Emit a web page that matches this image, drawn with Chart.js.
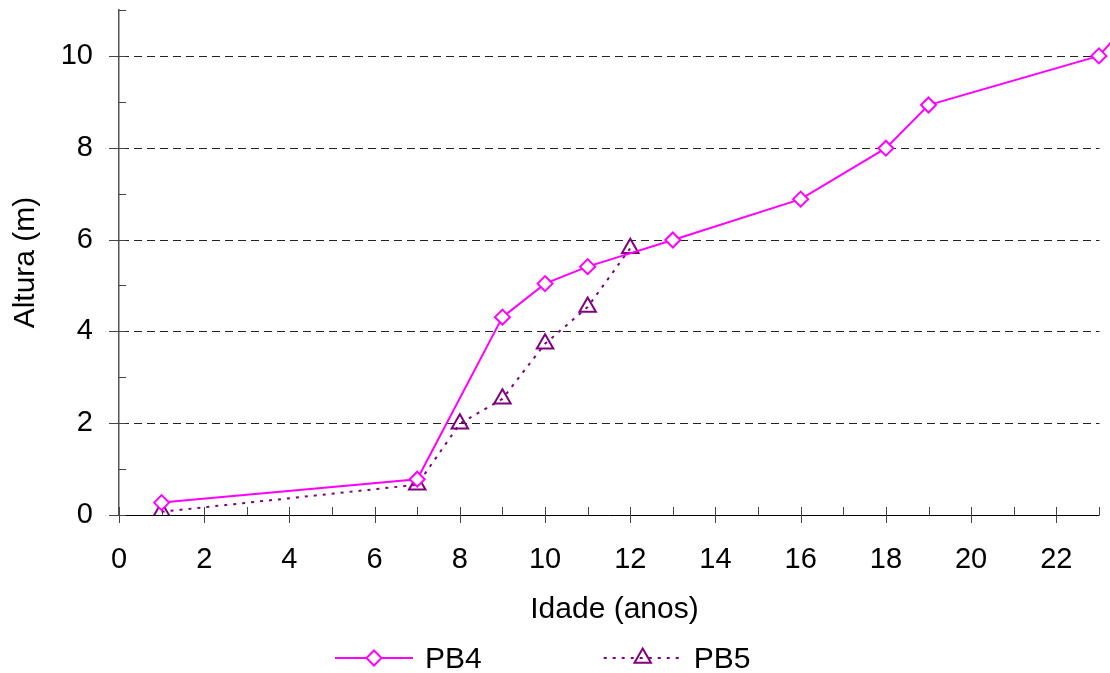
<!DOCTYPE html>
<html>
<head>
<meta charset="utf-8">
<title>Altura x Idade</title>
<script src="https://cdn.jsdelivr.net/npm/chart.js@4/dist/chart.umd.min.js"></script>
<style>
  html, body { margin: 0; padding: 0; background: #fff; }
  #wrap { width: 1110px; height: 673px; position: relative; }
</style>
</head>
<body>
<div id="wrap"><canvas id="chart"></canvas></div>
<script>
// values
var agesPB4 = [1, 7, 9, 10, 11, 13, 16, 18, 19, 23, 24];
var heightPB4 = [0.27, 0.78, 4.31, 5.04, 5.41, 5.99, 6.88, 7.99, 8.93, 10.0, 11.04];
var agesPB5 = [1, 7, 8, 9, 10, 11, 12];
var heightPB5 = [0.07, 0.66, 1.99, 2.53, 3.73, 4.53, 5.81];
var seriesNames = ["PB4", "PB5"];
var xTitle = "Idade (anos)";
var yTitle = "Altura (m)";
var xAxisEnd = 23;

var fontFamily = '"Liberation Sans", Arial, sans-serif';

function toPoints(xs, ys) {
  var out = [];
  for (var i = 0; i < xs.length; i++) {
    out.push({ x: xs[i], y: ys[i] });
  }
  return out;
}

function evenLabel(value) {
  return value % 2 === 0 ? String(value) : "";
}

// dashed gridlines, x axis line and Excel-style major/minor tick marks
var axisMarks = {
  id: "axisMarks",
  beforeDatasetsDraw: function (chart) {
    var ctx = chart.ctx;
    var area = chart.chartArea;
    var xs = chart.scales.x;
    var ys = chart.scales.y;
    var xEnd = Math.round(xs.getPixelForValue(xAxisEnd)) + 0.5;
    ctx.save();
    ctx.strokeStyle = "#222";
    ctx.lineWidth = 1;
    ctx.setLineDash([8, 5]);
    ys.ticks.forEach(function (t) {
      if (t.value === 0 || t.value % 2 !== 0) return;
      var y = Math.round(ys.getPixelForValue(t.value)) + 0.5;
      ctx.beginPath();
      ctx.moveTo(area.left + 2, y);
      ctx.lineTo(xEnd, y);
      ctx.stroke();
    });
    ctx.setLineDash([]);
    // x axis line stops at the last age tick
    var yb = Math.round(area.bottom) + 0.5;
    ctx.strokeStyle = "#000";
    ctx.beginPath();
    ctx.moveTo(area.left, yb);
    ctx.lineTo(xEnd, yb);
    ctx.stroke();
    ctx.strokeStyle = "#444";
    ys.ticks.forEach(function (t) {
      var y = Math.round(ys.getPixelForValue(t.value)) + 0.5;
      var major = t.value % 2 === 0;
      ctx.beginPath();
      ctx.moveTo(area.left - (major ? 10 : 0), y);
      ctx.lineTo(area.left + 7, y);
      ctx.stroke();
    });
    xs.ticks.forEach(function (t) {
      if (t.value > xAxisEnd) return;
      var x = Math.round(xs.getPixelForValue(t.value)) + 0.5;
      var major = t.value % 2 === 0;
      ctx.beginPath();
      ctx.moveTo(x, area.bottom - 8);
      ctx.lineTo(x, area.bottom + (major ? 8 : 0));
      ctx.stroke();
    });
    ctx.restore();
  },
};

// legend under the x title: short line with the marker in its middle
var bottomLegend = {
  id: "bottomLegend",
  afterDraw: function (chart) {
    var ctx = chart.ctx;
    var y = 658;
    var x0 = 335;
    var lineLen = 78;
    ctx.save();
    ctx.font = "30px " + fontFamily;
    chart.data.datasets.forEach(function (ds) {
      ctx.strokeStyle = ds.borderColor;
      ctx.lineWidth = ds.borderWidth;
      ctx.setLineDash(ds.borderDash || []);
      ctx.beginPath();
      ctx.moveTo(x0, y);
      ctx.lineTo(x0 + lineLen, y);
      ctx.stroke();
      ctx.setLineDash([]);
      ctx.fillStyle = ds.pointBackgroundColor;
      ctx.lineWidth = ds.pointBorderWidth;
      Chart.helpers.drawPoint(ctx, {
        pointStyle: ds.pointStyle,
        radius: ds.pointRadius,
        borderWidth: ds.pointBorderWidth,
        rotation: 0,
      }, x0 + lineLen / 2, y);
      ctx.fillStyle = "#000";
      ctx.textBaseline = "alphabetic";
      ctx.textAlign = "left";
      ctx.fillText(ds.label, x0 + lineLen + 12, y + 10);
      x0 += lineLen + 12 + ctx.measureText(ds.label).width + 122;
    });
    ctx.restore();
  },
};

new Chart(document.getElementById("chart"), {
  type: "line",
  data: {
    datasets: [
      {
        label: seriesNames[0],
        data: toPoints(agesPB4, heightPB4),
        borderColor: "#ff00ff",
        borderWidth: 2,
        pointStyle: "rectRot",
        pointRadius: 7.5,
        pointBorderWidth: 2,
        pointBorderColor: "#ff00ff",
        pointBackgroundColor: "#ffffff",
        tension: 0,
        fill: false,
      },
      {
        label: seriesNames[1],
        data: toPoints(agesPB5, heightPB5),
        borderColor: "#800080",
        borderWidth: 2,
        borderDash: [3, 6],
        pointStyle: "triangle",
        pointRadius: 9.5,
        pointBorderWidth: 2,
        pointBorderColor: "#800080",
        pointBackgroundColor: "rgba(255,255,255,0)",
        tension: 0,
        fill: false,
      },
    ],
  },
  options: {
    responsive: true,
    maintainAspectRatio: false,
    animation: false,
    devicePixelRatio: 1,
    layout: { autoPadding: false, padding: { top: 10, right: 0, left: 0, bottom: 0 } },
    plugins: {
      legend: { display: false },
      tooltip: { enabled: false },
    },
    scales: {
      x: {
        type: "linear",
        min: 0,
        max: 23.26,
        grid: { display: false, drawTicks: false },
        border: { display: false },
        ticks: {
          stepSize: 1,
          includeBounds: false,
          autoSkip: false,
          maxRotation: 0,
          padding: 28,
          color: "#000",
          font: { family: fontFamily, size: 29 },
          callback: evenLabel,
        },
        title: {
          display: true,
          text: xTitle,
          color: "#000",
          font: { family: fontFamily, size: 30 },
          padding: { top: 0, bottom: 45 },
        },
        afterFit: function (scale) {
          scale.height = 158;
          scale.paddingLeft = 0;
          scale.paddingRight = 0;
        },
      },
      y: {
        type: "linear",
        min: 0,
        max: 11,
        grid: { display: false, drawTicks: false },
        border: { display: true, color: "#555", width: 1.5 },
        ticks: {
          stepSize: 1,
          autoSkip: false,
          padding: 26,
          color: "#000",
          font: { family: fontFamily, size: 29 },
          callback: evenLabel,
        },
        title: {
          display: true,
          text: yTitle,
          color: "#000",
          font: { family: fontFamily, size: 30 },
          padding: { top: 8, bottom: 0 },
        },
        afterFit: function (scale) {
          scale.width = 119;
          scale.paddingTop = 0;
          scale.paddingBottom = 0;
        },
      },
    },
  },
  plugins: [axisMarks, bottomLegend],
});
</script>
</body>
</html>
